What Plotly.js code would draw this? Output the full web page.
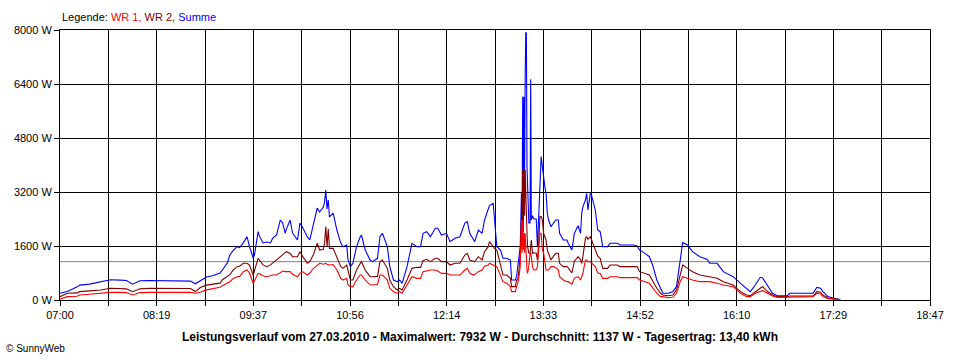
<!DOCTYPE html>
<html><head><meta charset="utf-8">
<script src="https://cdn.plot.ly/plotly-3.0.1.min.js"></script>
<style>html,body{margin:0;padding:0;background:#fff;} #chart{width:960px;height:360px;}</style>
</head><body><div id="chart"></div>
<script>
const day = "2010-03-27";
const times = [
"07:00","07:06","07:14","07:16","07:24","07:33","07:41","07:49","07:54","07:59",
"08:05","08:13","08:21","08:29","08:38","08:46","08:50","08:54","08:59","09:04",
"09:10","09:12","09:16","09:18","09:21","09:24","09:26","09:29","09:32","09:34",
"09:37","09:38","09:41","09:42","09:45","09:48","09:51","09:53","09:56","09:59",
"10:01","10:03","10:04","10:07","10:09","10:13","10:15","10:17","10:21","10:23",
"10:26","10:29","10:31","10:34","10:35","10:36","10:37","10:38","10:39","10:42",
"10:45","10:48","10:50","10:53","10:54","10:56","10:58","11:01","11:04","11:05",
"11:08","11:12","11:14","11:18","11:20","11:22","11:26","11:28","11:31","11:34",
"11:36","11:38","11:42","11:46","11:50","11:53","11:55","11:58","12:01","12:05",
"12:07","12:10","12:14","12:17","12:21","12:25","12:29","12:31","12:33","12:36",
"12:37","12:40","12:43","12:45","12:48","12:49","12:52","12:53","12:55","12:58",
"13:00","13:03","13:06","13:07","13:10","13:11","13:12","13:13","13:14","13:15",
"13:15:30","13:16","13:16:30","13:17","13:17:30","13:18","13:18:30","13:19","13:19:30","13:20",
"13:21","13:22","13:22:30","13:23","13:24","13:25","13:27","13:28","13:29","13:30",
"13:31","13:32","13:33","13:34","13:35","13:36","13:37","13:39","13:41","13:43",
"13:45","13:46","13:49","13:52","13:53","13:56","13:58","14:01","14:03","14:04",
"14:05","14:07","14:08","14:09","14:11","14:12","14:15","14:17","14:19","14:21",
"14:25","14:27","14:29","14:33","14:35","14:41","14:46","14:49","14:51","14:55",
"14:59","15:02","15:05","15:08","15:10","15:14","15:18","15:21","15:24","15:26",
"15:30","15:34","15:40","15:46","15:48","15:54","15:59","16:07","16:13","16:18",
"16:21","16:25","16:29","16:31","16:35","16:39","16:43","16:51","16:53","17:01",
"17:12","17:15","17:18","17:20","17:24","17:28","17:31","17:34"
];
const summe = [
200,250,390,440,470,540,600,590,580,470,
570,580,570,575,570,560,480,560,680,720,
800,890,1100,1333,1480,1580,1550,1700,1876,1580,
1244,1333,2024,1900,1690,1720,1690,1840,1926,2370,
2280,1985,2100,2370,1985,1778,2280,2160,1870,1780,
2280,2725,2607,2755,2900,3260,2700,2963,2460,2577,
2074,1700,1580,1630,1200,988,1087,1580,1876,1926,
1481,1185,1136,1235,1876,1976,1580,988,593,543,
593,494,988,1680,1580,1580,1976,2024,1876,2124,
2124,1926,1976,1728,1827,1876,2280,2320,1976,1778,
1728,2074,1976,2370,2667,2800,2865,2470,1580,1481,
1235,1235,1185,593,593,691,988,1390,1580,3160,
2200,6020,3000,6020,3500,6500,7932,7900,3950,3160,
2280,2280,6540,2370,2500,2400,2400,1580,2500,3650,
4250,3950,3555,3360,3160,2577,2370,2170,2280,2370,
2370,1976,1778,1778,1680,1481,1976,2200,1976,2577,
2765,2963,3160,2667,3160,3100,2667,2074,2024,1580,
1580,1680,1680,1680,1630,1630,1630,1600,1481,1390,
1283,988,593,346,200,200,247,395,1185,1700,
1630,1432,1283,1200,1087,1087,840,691,494,346,
247,444,672,650,444,200,128,128,200,200,
200,375,350,247,100,60,30,10
];
const wr2 = [
99,200,210,247,270,296,346,346,330,247,
330,346,340,346,346,340,250,370,440,460,
500,600,690,750,900,988,1000,1087,1087,1037,
740,850,1235,1185,1040,988,1040,1100,1185,1283,
1333,1400,1432,1380,1283,1283,1432,1300,1087,1136,
1350,1680,1481,1500,1700,2170,1580,2100,1530,1530,
1283,1000,938,1037,889,593,593,889,1087,1136,
889,691,691,700,1136,1185,938,593,395,296,
346,296,593,938,968,968,1165,1205,1136,1235,
1235,1136,1136,1037,1087,1087,1333,1383,1185,1136,
1136,1283,1185,1432,1580,1728,1580,1530,1481,988,
740,740,642,395,395,593,593,900,1390,2370,
1600,3852,2000,3852,2500,3852,3000,2370,2000,1580,
1383,1383,1778,1778,1383,1400,1383,1185,1700,2470,
2470,2370,1976,1876,1778,1481,1383,1185,1300,1383,
1383,1087,988,988,950,800,1150,1283,1185,1087,
1300,1827,1876,1800,1876,1778,1481,1300,1235,938,
938,1037,1037,1037,988,988,988,988,840,800,
740,543,346,200,148,128,148,296,691,1037,
938,840,740,691,691,642,543,444,247,148,
128,250,350,395,250,148,99,99,118,118,
118,247,230,148,60,49,20,5
];
const wr1 = [
30,99,110,148,170,200,227,227,220,148,
220,227,230,227,227,227,200,230,300,330,
380,420,494,540,640,691,700,840,889,800,
494,560,790,780,720,690,720,740,740,820,
860,840,840,840,760,690,790,840,740,800,
940,1037,1087,1060,1080,1087,1060,1050,1037,1050,
889,650,593,642,450,395,395,593,740,740,
593,444,444,460,740,740,593,346,247,200,
247,200,444,691,642,642,840,860,889,889,
860,790,790,740,740,740,889,938,790,740,
760,840,889,1000,1037,1087,1037,1010,988,691,
543,494,395,247,247,395,494,700,988,2370,
1400,2370,1500,1976,1400,1976,1500,988,900,790,
1000,1383,1383,1300,988,889,900,988,1500,1976,
1976,1481,1400,1185,889,889,889,988,988,950,
889,691,593,543,543,470,650,691,593,691,
800,1185,1185,1136,1136,1100,988,800,790,642,
642,691,691,691,662,662,662,662,593,550,
494,346,200,99,99,69,79,200,543,691,
642,593,543,543,543,494,444,395,200,99,
99,200,260,276,200,118,79,79,99,99,
99,200,180,99,40,30,10,0
];
const avgPower = 1137;
const xStart = "07:00", xEnd = "18:47";
const xTickLabels = ["07:00","","08:19","","09:37","","10:56","","12:14","","13:33","","14:52","","16:10","","17:29","","18:47"];
const yTickValues = [0,1600,3200,4800,6400,8000];
const yTickLabels = ["0 W","1600 W","3200 W","4800 W","6400 W","8000 W"];
const titleText = "Leistungsverlauf vom 27.03.2010 - Maximalwert: 7932 W - Durchschnitt: 1137 W - Tagesertrag: 13,40 kWh";

const x = times.map(t => day + " " + t);
function ms(t){ const p = t.split(":").map(Number); return Date.UTC(2010,2,27,p[0],p[1]); }
const t0 = ms(xStart), t1 = ms(xEnd);
const xTickVals = xTickLabels.map((_, i) => t0 + i * (t1 - t0) / (xTickLabels.length - 1));

const FONT = "Liberation Sans, Arial, sans-serif";
const traces = [
  {x: x, y: summe, type: "scatter", mode: "lines", name: "Summe", line: {color: "#0000ff", width: 1.1}},
  {x: x, y: wr2, type: "scatter", mode: "lines", name: "WR 2", line: {color: "#800000", width: 1.1}},
  {x: x, y: wr1, type: "scatter", mode: "lines", name: "WR 1", line: {color: "#ff0000", width: 1.1}}
];
const axisCommon = {
  showgrid: true, gridcolor: "#000", gridwidth: 1,
  showline: true, linecolor: "#000", linewidth: 1, mirror: true,
  ticks: "outside", ticklen: 5, tickcolor: "#000", tickwidth: 1,
  zeroline: false, tickfont: {family: FONT, size: 11, color: "#000"}
};
const layout = {
  width: 960, height: 360,
  margin: {l: 60, r: 30, t: 30, b: 60, pad: 0},
  paper_bgcolor: "#fff", plot_bgcolor: "#fff",
  showlegend: false, hovermode: false,
  font: {family: FONT, size: 11, color: "#000"},
  title: {text: "<b>" + titleText + "</b>", font: {family: FONT, size: 12, color: "#000"},
          xref: "container", yref: "container", x: 0.5, xanchor: "center", y: 1 - 337/360, yanchor: "middle"},
  xaxis: Object.assign({}, axisCommon, {
    type: "date", range: [day + " " + xStart, day + " " + xEnd],
    tickmode: "array", tickvals: xTickVals, ticktext: xTickLabels
  }),
  yaxis: Object.assign({}, axisCommon, {
    range: [0, 8000], tickmode: "array", tickvals: yTickValues, ticktext: yTickLabels
  }),
  shapes: [{type: "line", xref: "paper", x0: 0, x1: 1, yref: "y", y0: avgPower, y1: avgPower,
            line: {color: "#808080", width: 1}, layer: "below"}],
  annotations: [
    {xref: "paper", yref: "paper", x: 0, y: (300-17)/270, xanchor: "left", yanchor: "middle", showarrow: false,
     text: 'Legende: <span style="color:#ff0000">WR 1,</span> <span style="color:#800000">WR 2,</span> <span style="color:#0000ff">Summe</span>',
     font: {family: FONT, size: 11, color: "#000"}},
    {xref: "paper", yref: "paper", x: (4-60)/870, y: (300-348)/270, xanchor: "left", yanchor: "middle", showarrow: false,
     text: "© SunnyWeb", font: {family: FONT, size: 10, color: "#000"}}
  ]
};
Plotly.newPlot("chart", traces, layout, {staticPlot: true, displayModeBar: false});
</script>
</body></html>
